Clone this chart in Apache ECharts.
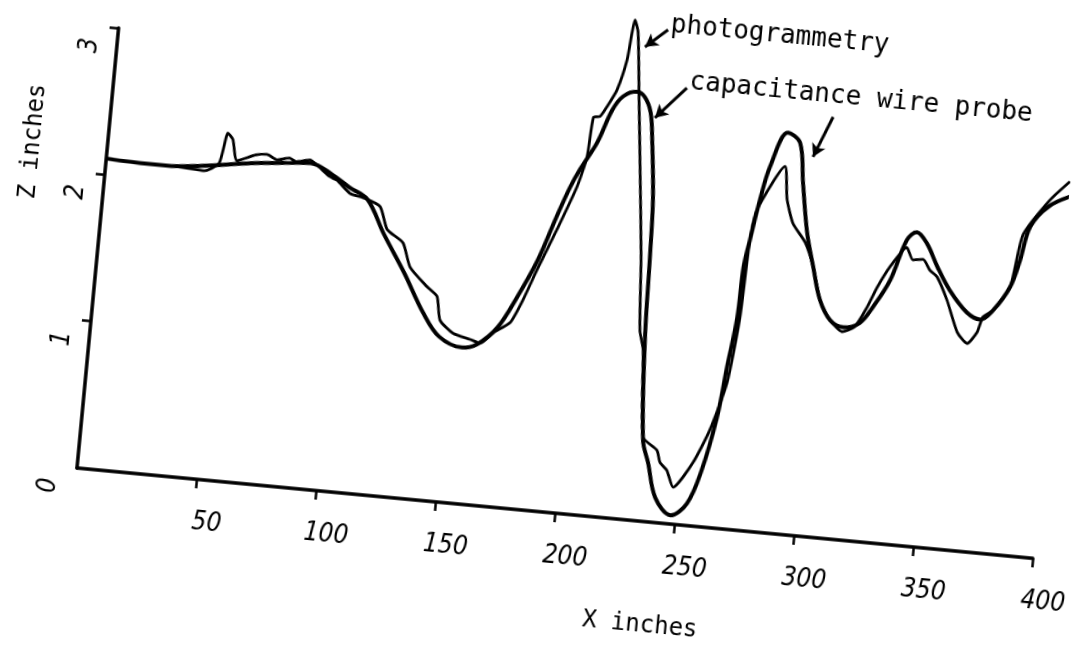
<!DOCTYPE html>
<html>
<head>
<meta charset="utf-8">
<script src="https://cdn.jsdelivr.net/npm/echarts@6/dist/echarts.min.js"></script>
<style>
html,body{margin:0;padding:0;background:#fff;overflow:hidden;width:1080px;height:654px;position:relative;}
#chart{position:absolute;left:-40px;top:-80px;width:1120px;height:734px;transform:rotate(5.4deg);transform-origin:117px 548px;}
</style>
</head>
<body>
<div id="chart"></div>
<script>
// X inches, Z inches
const capacitanceProbe = [
  [0,2.11],[18,2.10],[25,2.10],[39,2.12],[60,2.17],[78,2.20],[85,2.21],[95,2.14],[102,2.07],[110,2.00],
  [118,1.78],[128,1.53],[137.5,1.27],[145,1.12],[155,1.06],[161,1.09],[169,1.22],[176,1.44],[183,1.70],
  [189,2.00],[193.5,2.21],[197,2.34],[203,2.53],[208,2.76],[212,2.86],[217.5,2.90],[221,2.87],[224,2.77],
  [225.7,2.59],[228.4,2.18],[229.4,1.79],[230.5,1.25],[233.7,0.55],[236.7,0.40],[241,0.17],[248,0.06],
  [254.4,0.15],[259,0.37],[263.5,0.75],[265.7,1.10],[268,1.44],[268.6,1.78],[270.2,1.97],[272.8,2.25],
  [275.7,2.48],[281.8,2.72],[287.2,2.66],[290,2.39],[293.6,2.06],[297.5,1.83],[301.6,1.61],[306.6,1.48],
  [312.3,1.44],[319,1.48],[324,1.60],[330,1.79],[335.3,2.07],[339.2,2.13],[343.8,2.06],[349,1.91],
  [355,1.76],[363,1.62],[368.8,1.58],[373.8,1.65],[380,1.82],[383,2.00],[386,2.24],[393,2.39],[403,2.48]
];
const photogrammetry = [
  [0,2.11],[18,2.10],[30,2.10],[41,2.09],[47,2.15],[49.5,2.36],[51.8,2.32],[54.3,2.18],[62,2.23],
  [66.5,2.24],[71,2.21],[76,2.23],[79,2.21],[84.6,2.23],[87.7,2.20],[93.5,2.13],[96.6,2.11],[102.5,2.03],
  [108,2.01],[115.5,1.96],[119.3,1.81],[126.4,1.73],[130.3,1.57],[138,1.45],[142.6,1.39],[144.8,1.23],
  [150.7,1.15],[158,1.12],[162.3,1.10],[167.3,1.18],[174,1.26],[178.4,1.42],[183,1.63],[189.8,1.92],
  [196.4,2.22],[199.4,2.43],[200.5,2.70],[203.2,2.71],[205.7,2.78],[209.2,2.90],[212.2,3.11],[213.2,3.30],
  [213.9,3.385],[215.7,3.30],[218.7,2.85],[221.8,2.39],[225.7,1.79],[228.1,1.29],[230.2,1.16],[233.6,0.57],
  [239.9,0.49],[241.6,0.41],[244.8,0.36],[248,0.25],[255.3,0.43],[261,0.66],[266.3,0.99],[269.1,1.44],
  [270.2,1.97],[272,2.18],[281.9,2.49],[284,2.27],[287.4,2.11],[293.2,1.99],[297.5,1.83],[301.6,1.61],
  [306.6,1.48],[312,1.41],[317,1.45],[321.4,1.59],[324.8,1.73],[329.4,1.88],[335.6,2.02],[338.6,1.94],
  [342.8,1.95],[346.1,1.88],[349.3,1.84],[354.3,1.69],[359.8,1.48],[364.3,1.41],[368,1.49],[369.9,1.60],
  [373.8,1.65],[380,1.82],[383.3,2.18],[393,2.43],[400.7,2.57]
];
const xTicks = [50,100,150,200,250,300,350,400];
const zTicks = [0,1,2,3];
const labelPhoto = {text:'photogrammetry', at:[229,3.37]};
const labelCap = {text:'capacitance wire probe', at:[239,3.0]};
const arrows = [
  {from:[228,3.338], to:[219.1,3.208], curve:0.2},
  {from:[238.1,2.958], to:[226,2.735], curve:-0.35},
  {from:[299.9,2.855], to:[293.1,2.572], curve:0.3}
];

const chart = echarts.init(document.getElementById('chart'), null, {renderer:'canvas'});
const ink = '#000';
const tickFont = {color:ink, fontSize:26, fontStyle:'italic', fontFamily:'"DejaVu Sans Condensed","DejaVu Sans",sans-serif'};
const monoFont = {color:ink, fontFamily:'"DejaVu Sans Mono",monospace'};

// main plot frame: 0..400 x 0..3 ; annotation frame shares the same scale but reaches 3.5
const inchPx = 442 / 3;
const annTop = 106 - 0.5 * inchPx;

chart.setOption({
  animation:false,
  backgroundColor:'#fff',
  grid:[
    {left:117, top:106, width:960, height:442, containLabel:false, outerBoundsMode:'none'},
    {left:117, top:annTop, width:960, height:3.5*inchPx, containLabel:false, outerBoundsMode:'none'}
  ],
  xAxis:[{
    type:'value', min:0, max:400, interval:50, gridIndex:0,
    name:'X inches', nameLocation:'middle', nameGap:92,
    nameTextStyle:Object.assign({fontSize:24, padding:[0,0,0,190]}, monoFont),
    axisLine:{show:true, onZero:false, lineStyle:{color:ink, width:3.5}},
    axisTick:{show:true, length:9, lineStyle:{color:ink, width:2.5}, customValues:xTicks},
    axisLabel:Object.assign({margin:30, padding:[0,0,0,28], customValues:xTicks, formatter:v=>String(v)}, tickFont),
    splitLine:{show:false}
  },{
    type:'value', min:0, max:400, gridIndex:1, show:false
  }],
  yAxis:[{
    type:'value', min:0, max:3, interval:1, gridIndex:0,
    name:'Z inches', nameLocation:'middle', nameGap:62, nameRotate:90,
    nameTextStyle:Object.assign({fontSize:24, padding:[0,0,0,200]}, monoFont),
    axisLine:{show:true, onZero:false, lineStyle:{color:ink, width:3.5}},
    axisTick:{show:true, length:9, lineStyle:{color:ink, width:2.5}, customValues:[1,2,3]},
    axisLabel:Object.assign({margin:14, rotate:90, padding:[0,40,0,0], customValues:zTicks, formatter:v=>String(v)}, tickFont),
    splitLine:{show:false}
  },{
    type:'value', min:0, max:3.5, gridIndex:1, show:false
  }],
  series:[
    {
      name:'capacitance wire probe', type:'line', data:capacitanceProbe,
      showSymbol:false, smooth:0.35, clip:false, z:3,
      lineStyle:{color:ink, width:4}, emphasis:{disabled:true}
    },
    {
      name:'photogrammetry', type:'line', data:photogrammetry,
      showSymbol:false, smooth:0.2, clip:false, z:4,
      lineStyle:{color:ink, width:2.8}, emphasis:{disabled:true}
    },
    {
      name:'annotations', type:'line', data:[], xAxisIndex:1, yAxisIndex:1,
      showSymbol:false, clip:false, silent:true,
      markPoint:{
        symbol:'circle', symbolSize:0, silent:true,
        label:Object.assign({show:true, position:'right', distance:0, fontSize:26, formatter:p=>p.name}, monoFont),
        data:[{name:labelPhoto.text, coord:labelPhoto.at},{name:labelCap.text, coord:labelCap.at}]
      },
      markLine:{
        silent:true, symbol:['none','arrow'], symbolSize:[11,13],
        label:{show:false}, emphasis:{disabled:true},
        lineStyle:{color:ink, width:3, type:'solid'},
        data:arrows.map(a=>[{coord:a.from, lineStyle:{curveness:a.curve}},{coord:a.to}])
      }
    }
  ]
});
</script>
</body>
</html>
